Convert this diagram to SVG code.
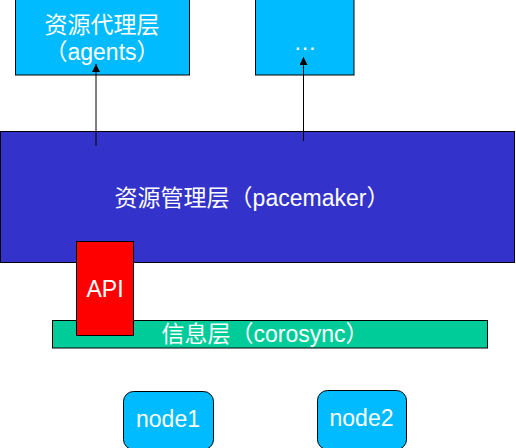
<svg xmlns="http://www.w3.org/2000/svg" width="516" height="448" viewBox="0 0 516 448">
<style>
.b{stroke:#000;stroke-width:1}
.t{fill:#fff;font-family:"Liberation Sans","Noto Sans CJK SC",sans-serif;font-size:23px;text-anchor:middle}
.c{stroke:#000;stroke-width:1;fill:none}
</style>
<defs>
<marker id="ah" viewBox="0 0 10 10" refX="10" refY="5" markerWidth="8" markerHeight="8" markerUnits="userSpaceOnUse" orient="auto">
<path d="M0,0L10,5L0,10z" fill="#000"/>
</marker>
</defs>
<rect width="516" height="448" fill="#fff"/>
<g id="pacemaker">
<rect class="b" x="0.5" y="131.5" width="514" height="131" fill="#3333CC"/>
<text class="t" x="252" y="206">资源管理层（pacemaker）</text>
</g>
<g id="agents">
<rect class="b" x="15.5" y="-0.5" width="174" height="75.5" fill="#00BBFF"/>
<text class="t" x="102" y="33">资源代理层</text>
<text class="t" x="102" y="60">（agents）</text>
</g>
<g id="more">
<rect class="b" x="255.5" y="-0.5" width="98.5" height="75.5" fill="#00BBFF"/>
<text class="t" x="305" y="50">…</text>
</g>
<g id="corosync">
<rect class="b" x="52.5" y="320.5" width="435" height="27.5" fill="#00CC99"/>
<text class="t" x="265" y="342">信息层（corosync）</text>
</g>
<g id="api">
<rect class="b" x="76.5" y="241.5" width="57" height="94" fill="#FF0000"/>
<text class="t" x="105" y="297">API</text>
</g>
<g id="node1">
<rect class="b" x="123.5" y="391.5" width="90" height="58" rx="10" fill="#00BBFF"/>
<text class="t" x="168" y="427">node1</text>
</g>
<g id="node2">
<rect class="b" x="317.5" y="390.5" width="89" height="59" rx="10" fill="#00BBFF"/>
<text class="t" x="361.5" y="426">node2</text>
</g>
<g id="connectors">
<line class="c" x1="96" y1="146" x2="96" y2="64" marker-end="url(#ah)"/>
<line class="c" x1="303.5" y1="141" x2="303.5" y2="57" marker-end="url(#ah)"/>
</g>
</svg>
